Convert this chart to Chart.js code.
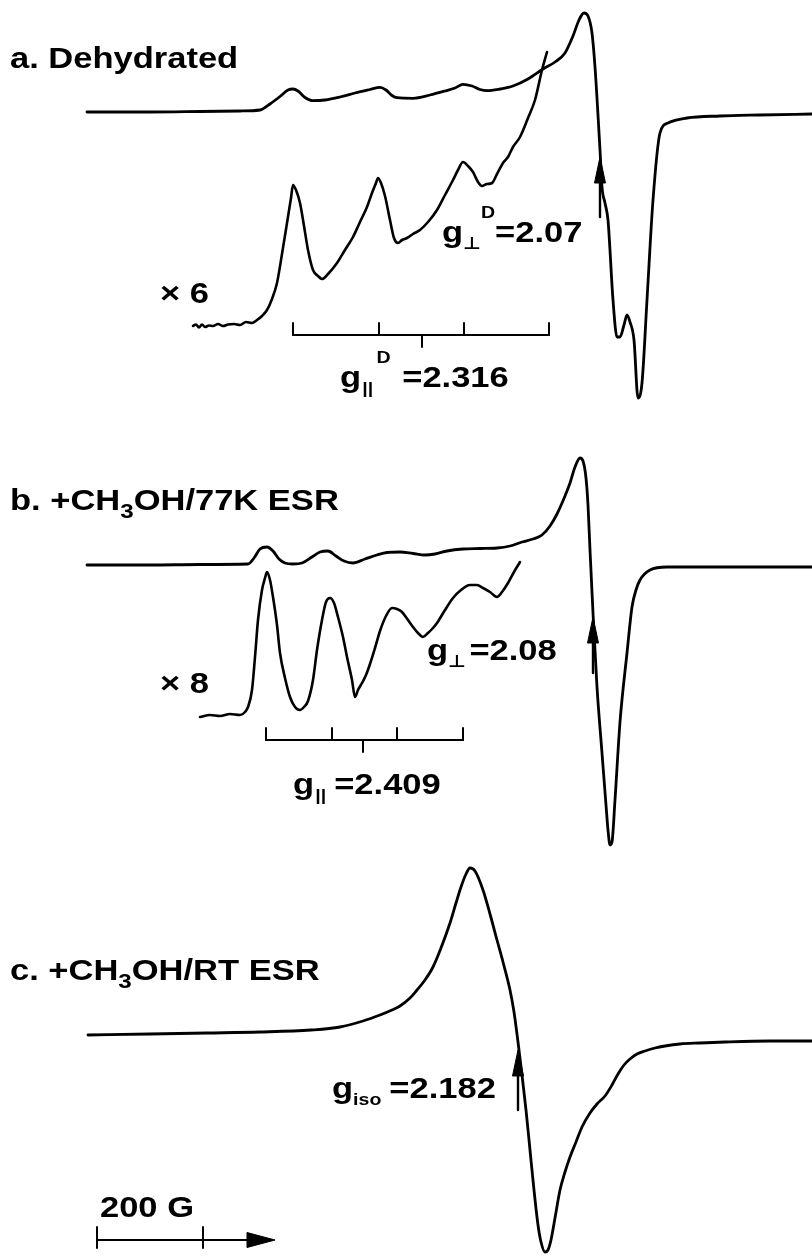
<!DOCTYPE html>
<html>
<head>
<meta charset="utf-8">
<script src="https://cdn.jsdelivr.net/npm/chart.js@4.4.1/dist/chart.umd.min.js"></script>
<style>
html,body{margin:0;padding:0;background:#fff;}
#wrap{width:812px;height:1257px;position:relative;}
</style>
</head>
<body>
<div id="wrap"><canvas id="c" width="812" height="1257"></canvas></div>
<script>
// ---------- data (field position x, signal y; plot units) ----------
// a. Dehydrated - full spectrum
const aX = [87,150,200,240,260,270,280,288,293,298,305,313,325,340,355,370,380,386,392,397,413,430,445,455,463,472,480,487,500,513,528,543,555,565,573,579,584,588,592,595,600,602,605,608,613,617,620,624,627,630,634,638,642,647,653,660,668,687,720,760,812];
const aY = [112,112,111.5,111,110,104,96.5,90,89,91,97.5,100.7,100,97,93,89.5,87.3,90,95.5,97.7,98.3,95,91,88,84.3,86,89.5,90.7,89,86,79,69,62,53,36,20,13,16,33,67,150,187,203,220,300,337,337,325,315,322,340,398,383,300,200,133,123,118,116,115,114];
// a. x6 expansion
const a6X = [193,196,199,202,205,209,213,218,223,228,234,240,246,252,257,262,267,272,277,282,287,291,293,296,300,304,308,313,318,322,328,337,345,353,360,367,372,376,378,381,385,390,394,398,402,407,413,420,428,437,445,453,458,463,468,473,478,482,487,492,497,503,508,513,520,528,535,542,547];
const a6Y = [326,324.5,327.5,324.5,327,325.5,326,324,326,324.5,324,325,322,323,320,316,310,299,283,254,223,198,185,190,203,226,250,270,276,279,274,263,250,237,222,207,193,183,178,183,196,220,238,243,240,238,234,230,222,210,195,180,170,162,166,172,182,186,184,183,174,163,157,147,137,118,100,70,52];
// b. +CH3OH / 77K - full spectrum
const bX = [87,150,200,248,254,260,267,273,279,285,293,302,312,320,328,336,344,353,365,377,387,400,413,425,435,447,463,480,497,510,522,533,542,550,557,565,570,575,580,583,586,588,590,593,597,602,606,608,610,612,615,620,627,632,636,640,650,667,700,760,812];
const bY = [565,565,564.5,564,558,549,547,551,559,563,564,563,557,552,551,556,561,563,559,555,552.5,552,553.5,555,554,551,549,548.5,548,546,542,539,535,526,514,496,483,467,458,461,478,505,550,613,687,753,805,830,845,842,800,722,653,607,590,580,570,567,567,567,567];
// b. x8 expansion
const b8X = [200,210,220,230,240,245,248,252,255,258,262,265,267,270,273,277,280,285,290,295,300,304,308,313,317,322,326,330,334,338,343,347,352,355,358,362,366,370,375,380,386,392,397,402,408,413,418,423,428,433,437,445,453,461,470,477,483,490,497,502,508,514,520];
const b8Y = [717,715,716,714,715,712,707,690,657,620,590,578,572,580,597,625,653,678,697,707,710,707,701,680,650,620,602,598,603,617,637,657,680,697,690,683,675,664,648,631,616,608,609,612,620,627,633,637,633,628,623,610,598,590,585,585,588,592,597,592,583,572,562];
// c. +CH3OH / RT
const cX = [88,150,207,260,311,340,363,380,392,400,410,417,425,433,441,450,456,461,466,470,475,483,490,497,503,510,514,518,522,526,530,534,538,541,545,548,551,555,560,565,570,576,582,590,597,605,612,618,624,630,637,645,655,665,680,700,725,770,812];
const cY = [1035,1034,1033,1032,1030,1027,1021,1015,1010,1006,998,990,980,967,948,923,903,887,874,868,871,890,914,940,962,990,1012,1042,1075,1110,1150,1190,1225,1242,1252,1250,1240,1218,1190,1172,1157,1142,1127,1113,1104,1096,1085,1074,1065,1059,1054,1051,1048,1046,1044,1043,1042,1041,1041];

// hyperfine stick diagrams (line positions) and g markers
const hfA = [293,379,464,549];      // g|| D quartet
const gParA = 422;
const hfB = [266,332,397,463];      // g|| quartet
const gParB = 363;
const hfLevelA = 335, hfLevelB = 740;
// g-value arrows: field position, arrow foot, arrow tip
const gArrowX   = [600, 593, 518];
const gArrowFoot= [217, 673, 1110];
const gArrowTip = [157, 617, 1050];
// 200 G scale bar
const scaleBarTicks = [97, 203];
const scaleBarEnd = 275;
const scaleBarLevel = 1240;

// text labels
const labelTexts = {
  a:'a. Dehydrated', a6:'\u00d7 6', b:['b. +CH','3','OH/77K ESR'], b8:'\u00d7 8',
  c:['c. +CH','3','OH/RT ESR'], gPerpA:'=2.07', gParA:'=2.316', gPerpB:'=2.08', gParB:'=2.409',
  gIso:'=2.182', bar:'200 G'
};

// ---------- helpers ----------
const pts = (xs, ys) => xs.map((x, i) => ({x, y: ys[i]}));
const seg = (x1, y1, x2, y2) => [{x:x1, y:y1}, {x:x2, y:y2}];

const datasets = [];
function addLine(data, width, smooth){
  datasets.push({
    data, borderColor:'#000', borderWidth:width, pointRadius:0, fill:false,
    cubicInterpolationMode: smooth ? 'monotone' : 'default', tension:0,
    borderCapStyle:'round', borderJoinStyle:'round'
  });
}
function addHead(tipX, tipY, dirX, dirY, len, halfW){
  const bx = tipX - dirX*len, by = tipY - dirY*len;
  const nx = -dirY, ny = dirX;
  datasets.push({
    data:[{x:tipX,y:tipY},{x:bx+nx*halfW,y:by+ny*halfW},{x:bx-nx*halfW,y:by-ny*halfW},{x:tipX,y:tipY}],
    borderColor:'#000', backgroundColor:'#000', borderWidth:1, pointRadius:0, fill:'shape', tension:0
  });
}

// spectra
addLine(pts(aX, aY), 2.8, true);
addLine(pts(a6X, a6Y), 2.6, true);
addLine(pts(bX, bY), 2.8, true);
addLine(pts(b8X, b8Y), 2.6, true);
addLine(pts(cX, cY), 2.8, true);

// stick diagrams
function sticks(hf, level, gx){
  addLine(seg(hf[0], level, hf[hf.length-1], level), 2, false);
  hf.forEach(x => addLine(seg(x, level-12, x, level), 2, false));
  addLine(seg(gx, level, gx, level+12), 2, false);
}
sticks(hfA, hfLevelA, gParA);
sticks(hfB, hfLevelB, gParB);

// g arrows
gArrowX.forEach((x, i) => {
  addLine(seg(x, gArrowFoot[i], x, gArrowTip[i] + 10), 2.4, false);
  addHead(x, gArrowTip[i], 0, -1, 26, 5.5);
});

// scale bar
addLine(seg(scaleBarTicks[0], scaleBarLevel, scaleBarEnd - 20, scaleBarLevel), 2.2, false);
scaleBarTicks.forEach(x => addLine(seg(x, scaleBarLevel-13, x, scaleBarLevel+8), 2, false));
addHead(scaleBarEnd, scaleBarLevel, 1, 0, 28, 7.5);

// ---------- text annotations ----------
const SX = 1.15, BIG = 30, SMALL = 17;
const annotations = [
  {x:10,  y:68,   segs:[{t:labelTexts.a}]},
  {x:160, y:303,  segs:[{t:labelTexts.a6}]},
  {x:442, y:242,  segs:[{t:'g'},{t:'\u22a5',sub:1},{t:'D',sup:1},{t:labelTexts.gPerpA}]},
  {x:340, y:387,  segs:[{t:'g'},{t:'||',sub:1,dx:1},{t:'D',sup:1,dx:3},{t:labelTexts.gParA,dx:10}]},
  {x:10,  y:510,  segs:[{t:labelTexts.b[0]},{t:labelTexts.b[1],sub:2},{t:labelTexts.b[2]}]},
  {x:160, y:693,  segs:[{t:labelTexts.b8}]},
  {x:427, y:660,  segs:[{t:'g'},{t:'\u22a5',sub:1},{t:labelTexts.gPerpB,dx:3}]},
  {x:293, y:794,  segs:[{t:'g'},{t:'||',sub:1,dx:1},{t:labelTexts.gParB,dx:7}]},
  {x:10,  y:980,  segs:[{t:labelTexts.c[0]},{t:labelTexts.c[1],sub:2},{t:labelTexts.c[2]}]},
  {x:332, y:1098, segs:[{t:'g'},{t:'iso',sub:1},{t:labelTexts.gIso,dx:7}]},
  {x:100, y:1217, segs:[{t:labelTexts.bar}]}
];
const FONT = '"Liberation Sans","Arial","DejaVu Sans",sans-serif';
function drawRich(ctx, px, py, segs){
  ctx.save();
  ctx.translate(px, py);
  ctx.scale(SX, 1);
  let cx = 0;
  for (const s of segs){
    const small = s.sub || s.sup;
    const size = s.sub === 2 ? 21 : (small ? SMALL : BIG);
    ctx.font = 'bold ' + size + 'px ' + FONT;
    const dy = s.sub === 2 ? 8 : s.sub ? 7 : s.sup ? -24 : 0;
    cx += (s.dx || 0);
    ctx.fillText(s.t, cx, dy);
    cx += ctx.measureText(s.t).width;
  }
  ctx.restore();
}
const textPlugin = {
  id:'esrTexts',
  afterDatasetsDraw(chart){
    const {ctx, scales} = chart;
    ctx.save();
    ctx.fillStyle = '#000';
    ctx.textBaseline = 'alphabetic';
    annotations.forEach(a => drawRich(ctx, scales.x.getPixelForValue(a.x), scales.y.getPixelForValue(a.y), a.segs));
    ctx.restore();
  }
};

new Chart(document.getElementById('c'), {
  type:'line',
  data:{datasets},
  options:{
    responsive:false, animation:false, devicePixelRatio:1,
    layout:{padding:0},
    events:[],
    plugins:{legend:{display:false}, tooltip:{enabled:false}},
    scales:{
      x:{type:'linear', min:0, max:812, display:false},
      y:{type:'linear', min:0, max:1257, reverse:true, display:false}
    }
  },
  plugins:[textPlugin]
});
</script>
</body>
</html>
